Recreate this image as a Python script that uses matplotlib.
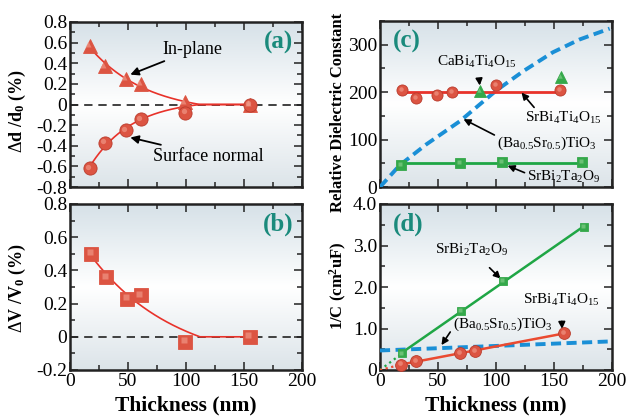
import numpy as np
import matplotlib
matplotlib.use('Agg')
import matplotlib.pyplot as plt
import matplotlib.ticker as ticker
from matplotlib.colors import LinearSegmentedColormap
from matplotlib.transforms import offset_copy

plt.rcParams['font.family'] = 'Liberation Serif'
plt.rcParams['mathtext.fontset'] = 'custom'
plt.rcParams['mathtext.rm'] = 'Liberation Serif'
plt.rcParams['mathtext.it'] = 'Liberation Serif:italic'
plt.rcParams['mathtext.bf'] = 'Liberation Serif:bold'

# (a) lattice spacing change
thk_a = [17, 30, 48, 61, 99, 155]
d_inplane = [0.57, 0.37, 0.25, 0.20, 0.02, 0.0]
d_normal = [-0.62, -0.37, -0.25, -0.14, -0.08, 0.0]
# (b) cell volume change
thk_b = [18, 31, 49, 61, 99, 155]
d_volume = [0.50, 0.36, 0.23, 0.25, -0.03, 0.0]
# thickness where the strain fits level off at zero
x_relax = 112
# (c) relative dielectric constant
thk_sbti = [19, 31, 49, 62, 100, 155]
eps_sbti = [204, 187, 195, 200, 215, 204]
thk_cbti = [86, 156]
eps_cbti = [202, 232]
thk_sbt = [18, 69, 105, 174]
eps_sbt = [46, 50, 53, 53]
thk_bst = [0, 17, 40, 69, 100, 124, 149, 172, 198]
eps_bst = [0, 46, 90, 139, 203, 245, 284, 311, 334]
# (d) inverse capacitance
thk_sbt_c = [19, 70, 106, 176]
invc_sbt = [0.40, 1.42, 2.14, 3.45]
thk_sbti_c = [18, 31, 69, 82, 159]
invc_sbti = [0.13, 0.21, 0.41, 0.45, 0.89]
thk_bst_c = [0, 200]
invc_bst = [0.47, 0.69]

RED = '#e8322a'
RED_FACE = '#dc5442'
RED_EDGE = '#b93b2c'
RED_HI = '#f2a090'
GREEN = '#1fa645'
GREEN_FACE = '#34a84a'
GREEN_HI = '#8fd392'
BLUE = '#1a8fd6'
TEAL = '#1a8a7c'

W, H = 626, 417
fig = plt.figure(figsize=(W / 100, H / 100), dpi=100)


def px_axes(left, top, right, bottom):
    return fig.add_axes([left / W, 1 - bottom / H, (right - left) / W, (bottom - top) / H])


ax_a = px_axes(70, 22, 302, 187)
ax_b = px_axes(70, 204, 302, 370)
ax_c = px_axes(380, 21, 612, 187)
ax_d = px_axes(380, 204, 612, 370)

bg = LinearSegmentedColormap.from_list('bg', ['#d6e1e8', '#ffffff', '#dce4e9'])
grad = np.linspace(0, 1, 256).reshape(-1, 1)


def style(ax, ylim, major, minor, fmt, xlabels):
    ax.imshow(grad, cmap=bg, extent=[0, 1, 0, 1], transform=ax.transAxes,
              aspect='auto', zorder=0, interpolation='bilinear')
    ax.set_xlim(0, 200)
    ax.set_ylim(*ylim)
    ax.xaxis.set_major_locator(ticker.MultipleLocator(50))
    ax.xaxis.set_minor_locator(ticker.MultipleLocator(25))
    ax.yaxis.set_major_locator(ticker.MultipleLocator(major))
    ax.yaxis.set_minor_locator(ticker.MultipleLocator(minor))
    ax.yaxis.set_major_formatter(ticker.FuncFormatter(fmt))
    ax.tick_params(which='both', direction='in', top=True, right=True,
                   width=1.1, labelsize=14, pad=2, color='#222222')
    ax.tick_params(which='major', length=6)
    ax.tick_params(which='minor', length=3.5)
    if not xlabels:
        ax.tick_params(labelbottom=False)
    for s in ax.spines.values():
        s.set_linewidth(1.8)
        s.set_color('#222222')


def fmt1(v, pos):
    return '0' if abs(v) < 1e-9 else '%.1f' % v


def fmt0(v, pos):
    return '%d' % v


style(ax_a, (-0.8, 0.8), 0.2, 0.1, fmt1, False)
style(ax_b, (-0.2, 0.8), 0.2, 0.1, fmt1, True)
style(ax_c, (0, 350), 100, 50, fmt0, False)
style(ax_d, (0, 4.0), 1.0, 0.5, fmt1, True)


def shaded(ax, x, y, marker, ms, face, hi, edge=None):
    ax.plot(x, y, ls='none', marker=marker, ms=ms, mfc=face,
            mec=edge or face, mew=0.6, zorder=5, clip_on=False)
    tr = offset_copy(ax.transData, fig=fig, x=-ms * 0.1, y=ms * 0.1, units='points')
    ax.plot(x, y, ls='none', marker=marker, ms=ms * 0.4, mfc=hi, mec='none',
            alpha=0.6, zorder=6, transform=tr, clip_on=False)


def decay_fit(x, y, xmax):
    # y = A (exp(-x/tau) - exp(-x_relax/tau)) on the thin films, zero beyond x_relax
    x = np.asarray(x, float)
    y = np.asarray(y, float)
    m = x < x_relax
    best = None
    for tau in np.linspace(8, 300, 600):
        f = np.exp(-x[m] / tau) - np.exp(-x_relax / tau)
        A = np.dot(f, y[m]) / np.dot(f, f)
        err = np.sum((A * f - y[m]) ** 2)
        if best is None or err < best[0]:
            best = (err, tau, A)
    _, tau, A = best
    xs = np.linspace(x[0], xmax, 300)
    ys = np.where(xs < x_relax, A * (np.exp(-xs / tau) - np.exp(-x_relax / tau)), 0.0)
    return xs, ys


# (a)
ax_a.axhline(0, color='#222222', lw=1.2, dashes=(5, 3.5), zorder=2)
for yy in (d_inplane, d_normal):
    xs, ys = decay_fit(thk_a, yy, thk_a[-1])
    ax_a.plot(xs, ys, color=RED, lw=1.2, zorder=3)
shaded(ax_a, thk_a, d_inplane, '^', 10, RED_FACE, RED_HI)
shaded(ax_a, thk_a, d_normal, 'o', 9.5, RED_FACE, RED_HI, RED_EDGE)
arrow = dict(arrowstyle='-|>', color='black', lw=1.3, mutation_scale=12, shrinkA=0, shrinkB=0)
ax_a.annotate('In-plane', xy=(52, 0.29), xytext=(80, 0.53), fontsize=13,
              va='center', ha='left', arrowprops=arrow, zorder=7)
ax_a.annotate('Surface normal', xy=(52, -0.32), xytext=(71.5, -0.50), fontsize=13,
              va='center', ha='left', arrowprops=arrow, zorder=7)

# (b)
ax_b.axhline(0, color='#222222', lw=1.2, dashes=(5, 3.5), zorder=2)
xs, ys = decay_fit(thk_b, d_volume, thk_b[-1])
ax_b.plot(xs, ys, color=RED, lw=1.2, zorder=3)
shaded(ax_b, thk_b, d_volume, 's', 9.5, RED_FACE, RED_HI)

# (c)
ax_c.plot(thk_bst, eps_bst, color=BLUE, lw=2.8, dashes=(2.6, 1.4), zorder=3)
ax_c.plot([thk_sbti[0], thk_sbti[-1]], [np.mean(eps_sbti)] * 2, color=RED, lw=2, zorder=3)
ax_c.plot([thk_sbt[0], thk_sbt[-1]], [np.mean(eps_sbt)] * 2, color=GREEN, lw=2, zorder=3)
shaded(ax_c, thk_sbti, eps_sbti, 'o', 8, RED_FACE, RED_HI, RED_EDGE)
shaded(ax_c, thk_cbti, eps_cbti, '^', 8, GREEN_FACE, GREEN_HI)
shaded(ax_c, thk_sbt, eps_sbt, 's', 6.5, GREEN_FACE, GREEN_HI)
arrow_s = dict(arrowstyle='-|>', color='black', lw=1.2, mutation_scale=10, shrinkA=0, shrinkB=0)
ax_c.annotate(r'CaBi$_4$Ti$_4$O$_{15}$', xy=(86, 214), xytext=(84, 263), fontsize=11,
              ha='center', va='center', arrowprops=dict(arrow_s, shrinkA=6))
ax_c.annotate(r'SrBi$_4$Ti$_4$O$_{15}$', xy=(122, 199), xytext=(125, 145), fontsize=11,
              ha='left', va='center', arrowprops=dict(arrow_s, relpos=(0.15, 1.0)))
ax_c.annotate(r'(Ba$_{0.5}$Sr$_{0.5}$)TiO$_3$', xy=(72, 143), xytext=(101, 92), fontsize=11,
              ha='left', va='center', arrowprops=dict(arrow_s, relpos=(0.0, 0.9)))
ax_c.annotate(r'SrBi$_2$Ta$_2$O$_9$', xy=(110, 45), xytext=(127, 21), fontsize=11,
              ha='left', va='center', arrowprops=dict(arrow_s, relpos=(0.0, 0.7)))

# (d)
ax_d.plot(thk_bst_c, invc_bst, color=BLUE, lw=2.8, dashes=(2.6, 1.4), zorder=3)
for xx, yy, col in ((thk_sbt_c, invc_sbt, GREEN), (thk_sbti_c, invc_sbti, '#ea4a30')):
    k, b = np.polyfit(xx, yy, 1)
    ax_d.plot([xx[0], xx[-1]], [k * xx[0] + b, k * xx[-1] + b], color=col, lw=1.8, zorder=3)
    ax_d.plot([0, xx[0]], [0, yy[0]], color=col, lw=1.6, ls=(0, (1, 1.6)), zorder=3)
shaded(ax_d, thk_sbti_c, invc_sbti, 'o', 8.5, RED_FACE, RED_HI, RED_EDGE)
shaded(ax_d, thk_sbt_c, invc_sbt, 's', 5.5, GREEN_FACE, GREEN_HI)
ax_d.annotate(r'SrBi$_2$Ta$_2$O$_9$', xy=(104, 2.2), xytext=(79, 2.89), fontsize=11,
              ha='center', va='center', arrowprops=dict(arrow_s, shrinkA=7))
ax_d.annotate(r'SrBi$_4$Ti$_4$O$_{15}$', xy=(157, 0.99), xytext=(156, 1.70), fontsize=11,
              ha='center', va='center', arrowprops=dict(arrow_s, shrinkA=8))
ax_d.annotate(r'(Ba$_{0.5}$Sr$_{0.5}$)TiO$_3$', xy=(53, 0.6), xytext=(106, 1.10), fontsize=11,
              ha='center', va='center', arrowprops=dict(arrow_s, relpos=(0.0, 0.3)))

# panel tags
for ax, tag, x in ((ax_a, '(a)', 0.897), (ax_b, '(b)', 0.897), (ax_c, '(c)', 0.115), (ax_d, '(d)', 0.12)):
    ax.text(x, 0.875, tag, transform=ax.transAxes, fontsize=18, fontweight='bold',
            color=TEAL, ha='center', va='center', zorder=8)

# axis titles
lab = dict(rotation=90, ha='center', va='center', fontweight='bold')
fig.text(17 / W, 1 - 111 / H, r'$\Delta$d /d$_\mathbf{0}$ (%)', fontsize=13, **lab)
fig.text(17 / W, 1 - 288 / H, r'$\Delta$V /V$_\mathbf{0}$ (%)', fontsize=13, **lab)
fig.text(338 / W, 1 - 112 / H, 'Relative Dielectric Constant', fontsize=12, **lab)
fig.text(338 / W, 1 - 286 / H, r'1/C (cm$^\mathbf{2}$uF)', fontsize=12, **lab)
for cx in (186, 496):
    fig.text(cx / W, 1 - 405 / H, 'Thickness (nm)', fontsize=15.5, fontweight='bold',
             ha='center', va='center')

fig.savefig('out.png', dpi=100)
